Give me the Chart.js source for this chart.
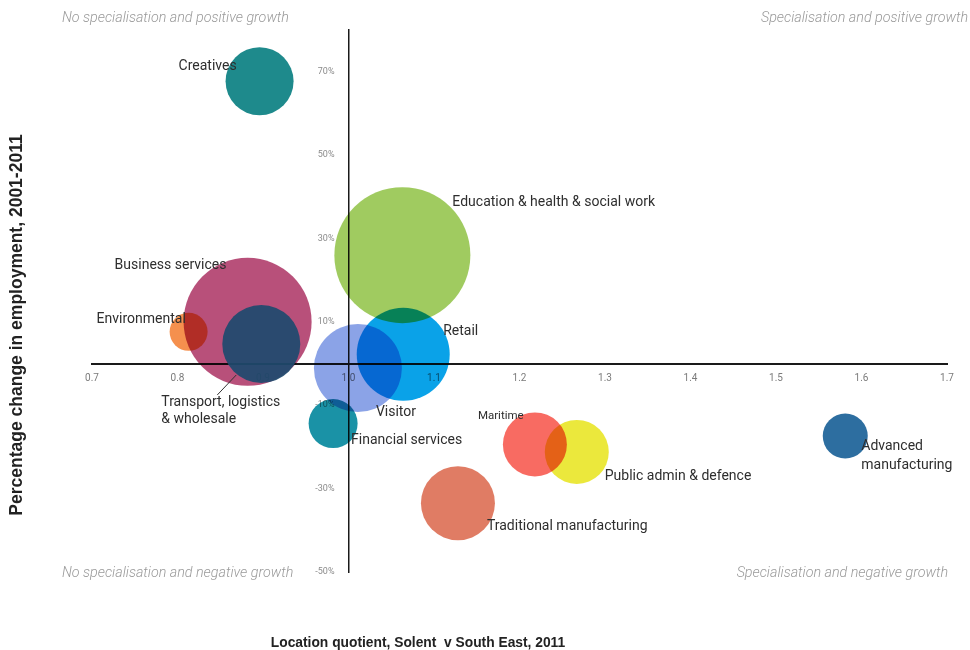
<!DOCTYPE html>
<html>
<head>
<meta charset="utf-8">
<title>Solent sectors</title>
<script src="https://cdn.jsdelivr.net/npm/chart.js@4"></script>
<style>
  html, body { margin: 0; padding: 0; background: #fff; }
  #wrap { position: relative; width: 970px; height: 650px; }
</style>
</head>
<body>
<div id="wrap"><canvas id="grafico" width="970" height="650"></canvas></div>
<script>
// Sectors, location quotient (Solent v South East, 2011) and change in employment 2001-2011
const sectors = [
    'Creatives',
    'Education & health & social work',
    'Business services',
    'Transport, logistics & wholesale',
    'Environmental',
    'Retail',
    'Visitor',
    'Financial services',
    'Maritime',
    'Public admin & defence',
    'Traditional manufacturing',
    'Advanced manufacturing'
];
const locationQuotient = [0.896, 1.063, 0.882, 0.898, 0.813, 1.064, 1.011, 0.982, 1.218, 1.267, 1.128, 1.581];
const employmentChange = [67.7, 26.0, 10.0, 4.7, 7.6, 2.2, -1.1, -14.4, -19.4, -21.2, -33.5, -17.4];
// size of each sector (bubble radius)
const sectorSize = [34, 68, 64, 39, 19, 46.5, 44, 24.5, 32, 32, 37, 22.5];

const xTicks = [0.7, 0.8, 0.9, 1.0, 1.1, 1.2, 1.3, 1.4, 1.5, 1.6, 1.7];
const yTicks = [70, 50, 30, 10, -10, -30, -50];

const sectorColours = ['#1e8a8c', '#a0cb60', '#b8507a', 'rgba(31,74,110,0.93)', '#f5904e', '#0aa2e8',
                       '#8ba3e7', '#1a92a6', '#f86b62', '#ebe83c', '#e07c64', '#2d6ea0'];

// where each label sits relative to its bubble centre (text left edge, middle of first line)
const labelSpots = [
    { dx: -81, dy: -15, lines: ['Creatives'] },
    { dx: 50, dy: -53, lines: ['Education & health & social work'] },
    { dx: -133, dy: -56, lines: ['Business services'] },
    { dx: -100, dy: 59, lines: ['Transport, logistics', '& wholesale'], leader: [-44, 51, -25, 31] },
    { dx: -92, dy: -12, lines: ['Environmental'] },
    { dx: 40, dy: -23, lines: ['Retail'] },
    { dx: 18, dy: 44, lines: ['Visitor'] },
    { dx: 18, dy: 17, lines: ['Financial services'] },
    { dx: -57, dy: -28, lines: ['Maritime'], size: 11.5 },
    { dx: 28, dy: 25, lines: ['Public admin & defence'] },
    { dx: 29, dy: 23, lines: ['Traditional manufacturing'] },
    { dx: 16, dy: 10, lines: ['Advanced', 'manufacturing'], lineGap: 19 }
];

// white background, y tick labels beside the centred axis, and colour blending of the bubbles
const blendPlugin = {
    id: 'blend',
    beforeDraw(chart) {
        const ctx = chart.ctx;
        ctx.save();
        ctx.fillStyle = '#fff';
        ctx.fillRect(0, 0, chart.width, chart.height);
        ctx.restore();
    },
    beforeDatasetsDraw(chart) {
        const ctx = chart.ctx;
        const ys = chart.scales.y;
        const axisX = chart.scales.x.getPixelForValue(1.0);
        ctx.save();
        ctx.fillStyle = '#8a8a8a';
        ctx.font = '9px Roboto';
        ctx.textAlign = 'right';
        ctx.textBaseline = 'middle';
        ys.ticks.forEach((t, i) => {
            ctx.fillText(t.label, axisX - 14, ys.getPixelForTick(i));
        });
        ctx.restore();
    },
    beforeDatasetDraw(chart, args) {
        chart.ctx.save();
        chart.ctx.globalCompositeOperation = chart.data.datasets[args.index].blend;
    },
    afterDatasetDraw(chart) {
        chart.ctx.restore();
    }
};

// sector labels, quadrant captions and axis titles
const textPlugin = {
    id: 'texts',
    afterDatasetsDraw(chart) {
        const ctx = chart.ctx;
        const xs = chart.scales.x, ys = chart.scales.y;
        ctx.save();
        ctx.textBaseline = 'middle';
        ctx.textAlign = 'left';
        ctx.fillStyle = '#2e2e2e';
        labelSpots.forEach((l, i) => {
            const cx = xs.getPixelForValue(locationQuotient[i]);
            const cy = ys.getPixelForValue(employmentChange[i]);
            ctx.font = (l.size || 14) + 'px Roboto';
            l.lines.forEach((t, k) => {
                ctx.fillText(t, cx + l.dx, cy + l.dy + k * (l.lineGap || 17));
            });
            if (l.leader) {
                ctx.strokeStyle = '#333';
                ctx.lineWidth = 1;
                ctx.beginPath();
                ctx.moveTo(cx + l.leader[0], cy + l.leader[1]);
                ctx.lineTo(cx + l.leader[2], cy + l.leader[3]);
                ctx.stroke();
            }
        });

        ctx.fillStyle = '#9a9a9a';
        ctx.font = 'italic 300 14.3px Roboto';
        ctx.fillText('No specialisation and positive growth', 62, 18);
        ctx.fillText('No specialisation and negative growth', 62, 573);
        ctx.textAlign = 'right';
        ctx.fillText('Specialisation and positive growth', 968, 18);
        ctx.fillText('Specialisation and negative growth', 948, 573);

        ctx.fillStyle = '#222';
        ctx.textAlign = 'center';
        ctx.font = 'bold 13.8px "Liberation Sans", Arial, sans-serif';
        ctx.fillText('Location quotient, Solent  v South East, 2011', 418, 643);
        ctx.translate(17, 325);
        ctx.rotate(-Math.PI / 2);
        ctx.font = 'bold 17.5px "Liberation Sans", Arial, sans-serif';
        ctx.fillText('Percentage change in employment, 2001-2011', 0, 0);
        ctx.restore();
    }
};

const datasets = sectors.map((s, i) => ({
    label: s,
    data: [{ x: locationQuotient[i], y: employmentChange[i], r: sectorSize[i] }],
    backgroundColor: sectorColours[i],
    borderWidth: 0,
    hoverRadius: 0,
    order: s.startsWith('Transport') ? 0 : 1,
    blend: s.startsWith('Transport') ? 'source-over' : 'multiply'
}));

new Chart(document.getElementById('grafico'), {
    type: 'bubble',
    data: { datasets: datasets },
    plugins: [blendPlugin, textPlugin],
    options: {
        responsive: false,
        animation: false,
        events: [],
        layout: {
            autoPadding: false,
            padding: { left: 92, right: 23, top: 30, bottom: 78 }
        },
        plugins: {
            legend: { display: false },
            tooltip: { enabled: false }
        },
        scales: {
            x: {
                type: 'linear',
                min: 0.7,
                max: 1.7,
                position: { y: 0 },
                afterBuildTicks: s => { s.ticks = xTicks.map(v => ({ value: v })); },
                afterFit: s => { s.height = 0; },
                ticks: {
                    callback: v => v.toFixed(1),
                    color: '#7b7b7b',
                    font: { family: 'Roboto', size: 10 },
                    padding: 9,
                    maxRotation: 0,
                    autoSkip: false
                },
                grid: { display: false, drawTicks: false },
                border: { display: true, color: '#1a1a1a', width: 2 }
            },
            y: {
                type: 'linear',
                min: -50,
                max: 80,
                position: { x: 1.0 },
                afterBuildTicks: s => { s.ticks = yTicks.map(v => ({ value: v })); },
                afterFit: s => { s.width = 0; },
                ticks: {
                    display: false,
                    callback: v => v + '%',
                    autoSkip: false
                },
                grid: { display: false, drawTicks: false },
                border: { display: true, color: '#1a1a1a', width: 1.5 }
            }
        }
    }
});
</script>
</body>
</html>
